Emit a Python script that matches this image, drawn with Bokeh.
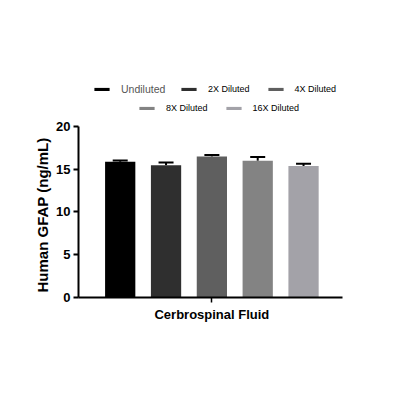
from bokeh.plotting import figure
from bokeh.models import (ColumnDataSource, Legend, LegendItem, FixedTicker,
                          Range1d, Whisker, TeeHead, Title)
from bokeh.embed import file_html
from bokeh.resources import INLINE

# ---- data ----
series = ["Undiluted", "2X Diluted", "4X Diluted", "8X Diluted", "16X Diluted"]
means = [15.85, 15.45, 16.45, 15.95, 15.35]
sems = [0.15, 0.3, 0.2, 0.45, 0.25]
colors = ["#000000", "#2f2f2f", "#5f5f5f", "#838383", "#a3a2a8"]
positions = [1, 2, 3, 4, 5]
group_label = "Cerbrospinal Fluid"
y_ticks = [0, 5, 10, 15, 20]
y_title = "Human GFAP (ng/mL)"

upper = [m + s for m, s in zip(means, sems)]
src = ColumnDataSource(dict(x=positions, top=means, upper=upper,
                            color=colors, name=series))

p = figure(width=384, height=384, output_backend="svg", toolbar_location=None,
           x_range=Range1d(0.09, 5.85), y_range=Range1d(0, 26.5),
           min_border_left=78, min_border_right=42,
           min_border_top=70, min_border_bottom=87)
p.outline_line_color = None
p.xgrid.grid_line_color = None
p.ygrid.grid_line_color = None
p.background_fill_color = "white"

renderers = []
for i in range(len(series)):
    r = p.vbar(x=[positions[i]], top=[means[i]], width=0.66, bottom=0,
               fill_color=colors[i], line_color=None)
    renderers.append(r)

wh = Whisker(source=src, base="x", lower="top", upper="upper",
             line_color="black", line_width=2,
             lower_head=None,
             upper_head=TeeHead(size=15, line_width=2, line_color="black"))
p.add_layout(wh)

# y axis
ya = p.yaxis[0]
ya.ticker = FixedTicker(ticks=y_ticks)
ya.bounds = (y_ticks[0], y_ticks[-1])
ya.axis_line_width = 2
ya.axis_line_color = "black"
ya.major_tick_line_width = 2
ya.major_tick_line_color = "black"
ya.major_tick_out = 5
ya.major_tick_in = 0
ya.minor_tick_line_color = None
ya.major_label_text_font = "Liberation Sans"
ya.major_label_text_font_style = "bold"
ya.major_label_text_font_size = "13px"
ya.major_label_text_color = "black"
ya.major_label_standoff = 3

# y title, anchored at the bottom of the axis so it is centred on 0..20
ytitle = Title(text=y_title, align="left", offset=5,
               text_font="Liberation Sans", text_font_style="bold",
               text_font_size="15px", text_color="black", standoff=6)
p.add_layout(ytitle, "left")

# x axis
xa = p.xaxis[0]
xa.ticker = FixedTicker(ticks=[3])
xa.major_label_overrides = {3: group_label}
xa.axis_line_width = 2
xa.axis_line_color = "black"
xa.major_tick_line_width = 1.5
xa.major_tick_line_color = "black"
xa.major_tick_out = 5
xa.major_tick_in = 0
xa.minor_tick_line_color = None
xa.major_label_text_font = "Liberation Sans"
xa.major_label_text_font_style = "bold"
xa.major_label_text_font_size = "13px"
xa.major_label_text_color = "black"
xa.major_label_standoff = 4


def make_legend(items, loc, size="9px", color="black"):
    lg = Legend(items=items, location=loc, orientation="horizontal",
                padding=0, margin=0, spacing=16, label_standoff=10,
                glyph_width=19, glyph_height=4, label_height=12,
                border_line_color=None, background_fill_alpha=0,
                label_text_font="Liberation Sans",
                label_text_font_size=size, label_text_color=color)
    return lg


legA = make_legend([LegendItem(label=series[0], renderers=[renderers[0]])],
                   (14, 202), size="10.5px", color="#555555")
legB = make_legend([LegendItem(label=series[i], renderers=[renderers[i]]) for i in (1, 2)],
                   (101, 202))
legC = make_legend([LegendItem(label=series[i], renderers=[renderers[i]]) for i in (3, 4)],
                   (59, 183))
for lg in (legA, legB, legC):
    p.add_layout(lg, "center")

open("out.html", "w").write(file_html(p, INLINE))
